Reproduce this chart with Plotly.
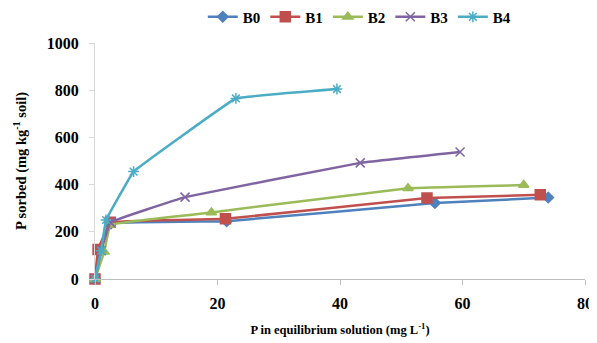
import plotly.graph_objects as go

series_names = ["B0", "B1", "B2", "B3", "B4"]
x_B0 = [0, 0.8, 2.6, 21.5, 55.5, 74.0]
y_B0 = [0, 120, 235, 245, 322, 345]
x_B1 = [0, 0.5, 2.5, 21.3, 54.2, 72.7]
y_B1 = [0, 125, 240, 255, 343, 357]
x_B2 = [0, 1.5, 2.5, 19.0, 51.1, 70.0]
y_B2 = [0, 115, 230, 282, 385, 398]
x_B3 = [0, 1.0, 2.5, 14.7, 43.3, 59.6]
y_B3 = [0, 120, 240, 347, 492, 538]
x_B4 = [0, 1.0, 1.8, 6.3, 23.0, 39.5]
y_B4 = [0, 120, 250, 455, 765, 805]

xs = [x_B0, x_B1, x_B2, x_B3, x_B4]
ys = [y_B0, y_B1, y_B2, y_B3, y_B4]
colors = ["#4F81BD", "#C0504D", "#9BBB59", "#8064A2", "#4BACC6"]
symbols = ["diamond", "square", "triangle-up", "x-thin-open", "asterisk-open"]
sizes = [8, 10, 9, 9, 9]

fig = go.Figure()
for n, x, y, c, s, sz in zip(series_names, xs, ys, colors, symbols, sizes):
    fig.add_trace(go.Scatter(
        x=x, y=y, name=n, mode="lines+markers", cliponaxis=False,
        line=dict(color=c, width=2.5, shape="spline", smoothing=0.15),
        marker=dict(symbol=s, size=sz, color=c, line=dict(color=c, width=1.5)),
    ))

font_family = "Liberation Serif"
fig.update_layout(
    width=589, height=335,
    margin=dict(l=87, r=12, t=35, b=64, autoexpand=False),
    paper_bgcolor="white", plot_bgcolor="white",
    font=dict(family=font_family, color="black"),
    showlegend=True,
    legend=dict(orientation="h", x=0.22, y=1.11, xref="paper", yref="paper",
                xanchor="left", yanchor="middle",
                font=dict(family=font_family, size=15, color="black", weight="bold"),
                itemwidth=30, tracegroupgap=0),
    xaxis=dict(range=[0, 80], tickvals=[0, 20, 40, 60, 80], showline=True,
               linecolor="#BFBFBF", linewidth=1, ticks="outside", ticklen=5,
               tickcolor="#BFBFBF", showgrid=False, zeroline=False, automargin=False,
               ticklabelstandoff=5,
               tickfont=dict(family=font_family, size=16, weight="bold"),
               title=dict(text="P in equilibrium solution (mg L<sup>-1</sup>)",
                          font=dict(family=font_family, size=12.5, weight="bold"),
                          standoff=14)),
    yaxis=dict(range=[0, 1000], tickvals=[0, 200, 400, 600, 800, 1000], showline=True,
               linecolor="#D9D9D9", linewidth=1, ticks="outside", ticklen=5,
               tickcolor="#D9D9D9", showgrid=False, zeroline=False, automargin=False,
               ticklabelstandoff=7,
               tickfont=dict(family=font_family, size=16, weight="bold"),
               title=dict(text="P sorbed (mg kg<sup>-1</sup> soil)",
                          font=dict(family=font_family, size=14.5, weight="bold"),
                          standoff=16)),
)

fig.write_html("out.html")
